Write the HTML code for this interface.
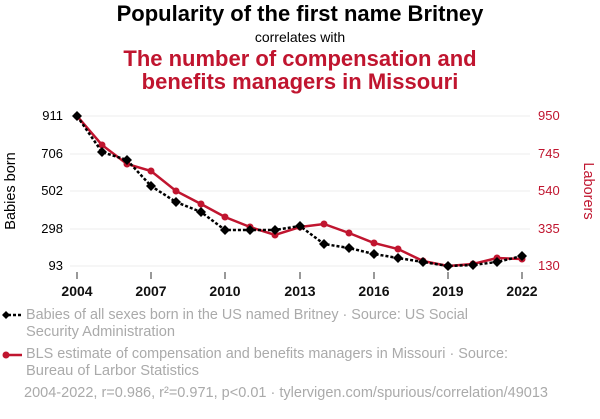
<!DOCTYPE html><html><head><style>body{margin:0;background:#fff;}svg text{font-family:"Liberation Sans",sans-serif;}</style></head><body>
<svg width="600" height="414" xmlns="http://www.w3.org/2000/svg">
<text x="300" y="21" text-anchor="middle" font-size="22" font-weight="bold" fill="#000">Popularity of the first name Britney</text>
<text x="300" y="42" text-anchor="middle" font-size="14" fill="#000">correlates with</text>
<text x="300" y="66" text-anchor="middle" font-size="22" font-weight="bold" fill="#c0152f">The number of compensation and</text>
<text x="300" y="89" text-anchor="middle" font-size="22" font-weight="bold" fill="#c0152f">benefits managers in Missouri</text>
<g stroke="#eee" stroke-width="1"><line x1="70" x2="530" y1="116" y2="116"/><line x1="70" x2="530" y1="154" y2="154"/><line x1="70" x2="530" y1="191" y2="191"/><line x1="70" x2="530" y1="229" y2="229"/><line x1="70" x2="530" y1="266" y2="266"/></g>
<g font-size="13" fill="#000" text-anchor="end"><text x="63" y="120">911</text><text x="63" y="158">706</text><text x="63" y="195">502</text><text x="63" y="233">298</text><text x="63" y="270">93</text></g>
<g font-size="13" fill="#c0152f" text-anchor="start"><text x="538" y="120">950</text><text x="538" y="158">745</text><text x="538" y="195">540</text><text x="538" y="233">335</text><text x="538" y="270">130</text></g>
<text transform="translate(15,191) rotate(-90)" text-anchor="middle" font-size="14.5">Babies born</text>
<text transform="translate(584,191) rotate(90)" text-anchor="middle" font-size="14.5" fill="#c0152f">Laborers</text>
<g stroke="#333"><line x1="77" x2="77" y1="272" y2="279"/><line x1="151" x2="151" y1="272" y2="279"/><line x1="225" x2="225" y1="272" y2="279"/><line x1="300" x2="300" y1="272" y2="279"/><line x1="374" x2="374" y1="272" y2="279"/><line x1="448" x2="448" y1="272" y2="279"/><line x1="522" x2="522" y1="272" y2="279"/></g>
<g font-size="14" text-anchor="middle" font-weight="bold" fill="#111"><text x="77" y="296">2004</text><text x="151" y="296">2007</text><text x="225" y="296">2010</text><text x="300" y="296">2013</text><text x="374" y="296">2016</text><text x="448" y="296">2019</text><text x="522" y="296">2022</text></g>
<polyline fill="none" stroke="#c0152f" stroke-width="2.5" points="77,116 102,145 127,164 151,171 176,191 201,204 225,217 250,227 275,235 300,227 324,224 349,233 374,243 398,249 423,261 448,266 473,264 497,258 522,259"/>
<g fill="#c0152f"><circle cx="77" cy="116" r="3.5"/><circle cx="102" cy="145" r="3.5"/><circle cx="127" cy="164" r="3.5"/><circle cx="151" cy="171" r="3.5"/><circle cx="176" cy="191" r="3.5"/><circle cx="201" cy="204" r="3.5"/><circle cx="225" cy="217" r="3.5"/><circle cx="250" cy="227" r="3.5"/><circle cx="275" cy="235" r="3.5"/><circle cx="300" cy="227" r="3.5"/><circle cx="324" cy="224" r="3.5"/><circle cx="349" cy="233" r="3.5"/><circle cx="374" cy="243" r="3.5"/><circle cx="398" cy="249" r="3.5"/><circle cx="423" cy="261" r="3.5"/><circle cx="448" cy="266" r="3.5"/><circle cx="473" cy="264" r="3.5"/><circle cx="497" cy="258" r="3.5"/><circle cx="522" cy="259" r="3.5"/></g>
<polyline fill="none" stroke="#000" stroke-width="2.5" stroke-dasharray="3,2" points="77,116 102,152 127,160 151,186 176,202 201,212 225,230 250,230 275,230 300,226 324,244 349,248 374,254 398,258 423,262 448,266 473,265 497,262 522,256"/>
<g fill="#000">
<path d="M77,111l5,5l-5,5l-5,-5z"/><path d="M102,147l5,5l-5,5l-5,-5z"/><path d="M127,155l5,5l-5,5l-5,-5z"/><path d="M151,181l5,5l-5,5l-5,-5z"/><path d="M176,197l5,5l-5,5l-5,-5z"/><path d="M201,207l5,5l-5,5l-5,-5z"/><path d="M225,225l5,5l-5,5l-5,-5z"/><path d="M250,225l5,5l-5,5l-5,-5z"/><path d="M275,225l5,5l-5,5l-5,-5z"/><path d="M300,221l5,5l-5,5l-5,-5z"/><path d="M324,239l5,5l-5,5l-5,-5z"/><path d="M349,243l5,5l-5,5l-5,-5z"/><path d="M374,249l5,5l-5,5l-5,-5z"/><path d="M398,253l5,5l-5,5l-5,-5z"/><path d="M423,257l5,5l-5,5l-5,-5z"/><path d="M448,261l5,5l-5,5l-5,-5z"/><path d="M473,260l5,5l-5,5l-5,-5z"/><path d="M497,257l5,5l-5,5l-5,-5z"/><path d="M522,251l5,5l-5,5l-5,-5z"/></g>
<line x1="3" x2="22" y1="315" y2="315" stroke="#000" stroke-width="2.5" stroke-dasharray="3,2"/><path d="M6,311l4,4l-4,4l-4,-4z"/>
<g font-size="15" fill="#aaa">
<text x="26" y="319" textLength="442" lengthAdjust="spacingAndGlyphs">Babies of all sexes born in the US named Britney · Source: US Social</text>
<text x="26" y="336" textLength="149" lengthAdjust="spacingAndGlyphs">Security Administration</text>
<text x="26" y="358" textLength="482" lengthAdjust="spacingAndGlyphs">BLS estimate of compensation and benefits managers in Missouri · Source:</text>
<text x="26" y="375" textLength="173" lengthAdjust="spacingAndGlyphs">Bureau of Larbor Statistics</text>
<text x="24" y="397" textLength="524" lengthAdjust="spacingAndGlyphs">2004-2022, r=0.986, r²=0.971, p&lt;0.01 · tylervigen.com/spurious/correlation/49013</text>
</g>
<line x1="3" x2="22" y1="355" y2="355" stroke="#c0152f" stroke-width="2.5"/><circle cx="6" cy="355" r="3.5" fill="#c0152f"/>
</svg></body></html>
